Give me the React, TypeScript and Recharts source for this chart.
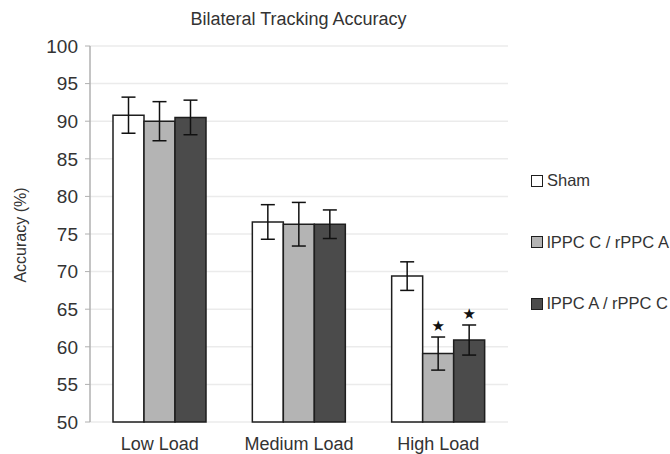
import { BarChart, Bar, XAxis, YAxis, CartesianGrid, ErrorBar, LabelList } from "recharts";

const categories = ["Low Load", "Medium Load", "High Load"];
const shamValues = [90.8, 76.6, 69.4];
const shamErrors = [2.4, 2.3, 1.9];
const lcraValues = [90.0, 76.3, 59.1];
const lcraErrors = [2.6, 2.9, 2.2];
const larcValues = [90.5, 76.3, 60.9];
const larcErrors = [2.3, 1.9, 2.0];
const lcraStars = [false, false, true];
const larcStars = [false, false, true];
const yTicks = [50, 55, 60, 65, 70, 75, 80, 85, 90, 95, 100];

const series = [
  { key: "sham", name: "Sham", fill: "#ffffff" },
  { key: "lcra", name: "lPPC C / rPPC A", fill: "#b4b4b4" },
  { key: "larc", name: "lPPC A / rPPC C", fill: "#4b4b4b" },
];

const data = categories.map((name, i) => ({
  name,
  sham: shamValues[i],
  shamErr: shamErrors[i],
  lcra: lcraValues[i],
  lcraErr: lcraErrors[i],
  lcraStar: lcraStars[i],
  larc: larcValues[i],
  larcErr: larcErrors[i],
  larcStar: larcStars[i],
}));

const FONT = "'Liberation Sans', Arial, sans-serif";
const TEXT = "#333333";

// star sits a little above the top of the error bar
function starLabel(valueKey: string, errKey: string) {
  return (props: any) => {
    const { x, y, width, height, index } = props;
    const row = data[index] as any;
    if (!row[valueKey + "Star"]) return null;
    const pxPerUnit = height / (row[valueKey] - 50);
    const top = y - row[errKey] * pxPerUnit;
    return (
      <text x={x + width / 2} y={top - 6} textAnchor="middle" fontSize={15} fill="#111" fontFamily="DejaVu Sans">
        ★
      </text>
    );
  };
}

export default function App() {
  return (
    <div style={{ position: "absolute", left: 0, top: 0, width: 670, height: 454, background: "#fff", fontFamily: FONT }}>
      <div style={{ position: "absolute", left: 89, width: 419, top: 9, textAlign: "center", fontSize: 18, color: TEXT }}>
        Bilateral Tracking Accuracy
      </div>
      <div
        style={{
          position: "absolute",
          left: 21,
          top: 235,
          transform: "translate(-50%, -50%) rotate(-90deg)",
          fontSize: 16,
          color: TEXT,
          whiteSpace: "nowrap",
        }}
      >
        Accuracy (%)
      </div>
      <BarChart
        width={670}
        height={454}
        data={data}
        margin={{ top: 46, right: 162, bottom: 0, left: 0 }}
        barGap={0}
        barCategoryGap={23}
      >
        <CartesianGrid horizontal vertical={false} stroke="#ebebeb" strokeWidth={1.5} />
        <XAxis
          dataKey="name"
          height={32}
          axisLine={false}
          tickLine={false}
          tickMargin={9}
          tick={{ fontSize: 18, fill: TEXT, fontFamily: FONT }}
        />
        <YAxis
          width={90}
          domain={[50, 100]}
          ticks={yTicks}
          interval={0}
          axisLine={{ stroke: "#b0b0b0", strokeWidth: 1.5 }}
          tickLine={{ stroke: "#b0b0b0" }}
          tickSize={5}
          tickMargin={7}
          tick={{ fontSize: 19, fill: TEXT, fontFamily: FONT }}
        />
        {series.map((s) => (
          <Bar key={s.key} dataKey={s.key} name={s.name} fill={s.fill} stroke="#1e1e1e" strokeWidth={1.5} isAnimationActive={false}>
            <ErrorBar dataKey={s.key + "Err"} width={7} stroke="#111" strokeWidth={1.5} />
            {s.key !== "sham" && <LabelList dataKey={s.key} content={starLabel(s.key, s.key + "Err")} />}
          </Bar>
        ))}
      </BarChart>
      <div style={{ position: "absolute", left: 531, top: 0 }}>
        {series.map((s, i) => (
          <div
            key={s.key}
            style={{ position: "absolute", top: 171 + i * 61.5, display: "flex", alignItems: "center", whiteSpace: "nowrap" }}
          >
            <span
              style={{
                display: "inline-block",
                width: 10,
                height: 10,
                background: s.fill,
                border: "1.5px solid #1e1e1e",
                marginRight: 4,
              }}
            />
            <span style={{ fontSize: 16.5, color: TEXT }}>{s.name}</span>
          </div>
        ))}
      </div>
    </div>
  );
}
